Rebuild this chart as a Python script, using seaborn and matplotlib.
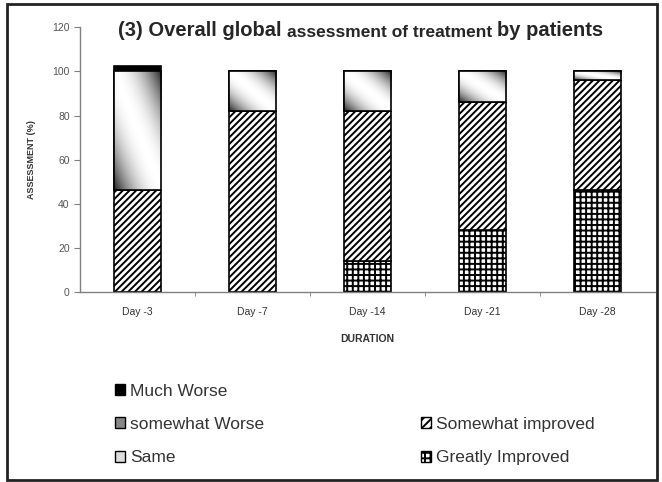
import numpy as np
import pandas as pd
import matplotlib
matplotlib.use("Agg")
import matplotlib.pyplot as plt
import matplotlib.patches as mpatches
import seaborn as sns

# values (percent of patients)
days = ["Day -3", "Day -7", "Day -14", "Day -21", "Day -28"]
greatly_improved = [0, 0, 14, 28, 46]
somewhat_improved = [46, 82, 68, 58, 50]
same = [54, 18, 18, 14, 4]
somewhat_worse = [0, 0, 0, 0, 0]
much_worse = [2.5, 0, 0, 0, 0]
yticks = [0, 20, 40, 60, 80, 100, 120]

sns.set_style("white")
plt.rcParams["font.family"] = ["Liberation Sans", "DejaVu Sans"]
plt.rcParams["hatch.linewidth"] = 1.4

df = pd.DataFrame({"day": days, "gi": greatly_improved, "si": somewhat_improved,
                   "same": same, "sw": somewhat_worse, "mw": much_worse})

fig = plt.figure(figsize=(6.62, 4.82), dpi=100)
ax = fig.add_axes([0.121, 0.395, 0.868, 0.548])

## stacked bars, one seaborn call per layer
layers = [("gi", "white", "+++"), ("si", "white", "/////"), ("same", "white", None),
          ("sw", "#888888", None), ("mw", "black", None)]
bottom = np.zeros(len(days))
layer_patches = {}
for col, fc, hatch in layers:
    before = len(ax.patches)
    sns.barplot(data=df, x="day", y=col, bottom=bottom, width=0.41, color=fc,
                edgecolor="black", linewidth=1.2, hatch=hatch, ax=ax, zorder=2)
    layer_patches[col] = ax.patches[before:]
    for p in layer_patches[col]:
        p.set_facecolor(fc)
    bottom = bottom + df[col].values

# diagonal gray gradient inside the "Same" segments
uu, vv = np.meshgrid(np.linspace(0, 1, 60), np.linspace(1, 0, 60))
grad = 1 - 0.85 * np.abs(uu + vv - 1) ** 2.0
for p in layer_patches["same"]:
    x, y, w, h = p.get_x(), p.get_y(), p.get_width(), p.get_height()
    if h <= 0:
        continue
    im = ax.imshow(grad, extent=[x, x + w, y, y + h], cmap="gray", vmin=0, vmax=1,
                   aspect="auto", zorder=2.5, interpolation="bilinear")
    im.set_clip_path(p)
    edge = mpatches.Rectangle((x, y), w, h, fill=False, edgecolor="black", linewidth=1.2, zorder=3)
    ax.add_patch(edge)

ax.set_xlim(-0.5, 4.5)
ax.set_ylim(0, 120)
ax.set_yticks(yticks)
ax.set_xticks(range(len(days)))
ax.set_xticklabels(days)
ax.set_xticks(np.arange(0.5, 4.5, 1), minor=True)
ax.tick_params(axis="x", which="major", length=0, labelsize=7.5, labelcolor="#333333", pad=11)
ax.tick_params(axis="x", which="minor", length=3, color="#808080", direction="out", bottom=True)
ax.tick_params(axis="y", length=4, color="#808080", direction="out", left=True,
               labelsize=7.5, labelcolor="#555555")
for s in ["top", "right"]:
    ax.spines[s].set_visible(False)
for s in ["left", "bottom"]:
    ax.spines[s].set_color("#808080")
    ax.spines[s].set_linewidth(1)

ax.set_xlabel("DURATION", fontsize=7.5, fontweight="bold", color="#333333", labelpad=12)
ax.set_ylabel("ASSESSMENT (%)", fontsize=6.5, fontweight="bold", color="#333333", labelpad=12)

## title in mixed sizes
t1 = fig.text(0.178, 0.926, "(3) Overall global ", fontsize=14.5, fontweight="bold", va="baseline")
t2 = ax.annotate("assessment of treatment ", xy=(1, 0), xycoords=t1, fontsize=12.5,
                 fontweight="bold", va="bottom", annotation_clip=False)
t3 = ax.annotate("by patients", xy=(1, 0), xycoords=t2, fontsize=14.5,
                 fontweight="bold", va="bottom", annotation_clip=False)

## legend below the plot, two columns
handles = [
    mpatches.Patch(facecolor="black", edgecolor="black", label="Much Worse"),
    mpatches.Patch(facecolor="#888888", edgecolor="black", label="somewhat Worse"),
    mpatches.Patch(facecolor="#dddddd", edgecolor="black", label="Same"),
    mpatches.Patch(facecolor="none", edgecolor="none", label=" "),
    mpatches.Patch(facecolor="white", edgecolor="black", hatch="////", label="Somewhat improved"),
    mpatches.Patch(facecolor="white", edgecolor="black", hatch="+++", label="Greatly Improved"),
]
fig.legend(handles=handles, ncol=2, loc="upper left", bbox_to_anchor=(0.16, 0.222),
           frameon=False, fontsize=12.5, handlelength=0.6, handleheight=0.6, handletextpad=0.3,
           labelspacing=1.05, columnspacing=9.0, borderpad=0, labelcolor="#333333")

# frame around the whole figure
fig.patches.append(mpatches.Rectangle((0.011, 0.004), 0.981, 0.988, transform=fig.transFigure,
                                      fill=False, edgecolor="#222222", linewidth=2))

fig.savefig("out.png", dpi=100)
